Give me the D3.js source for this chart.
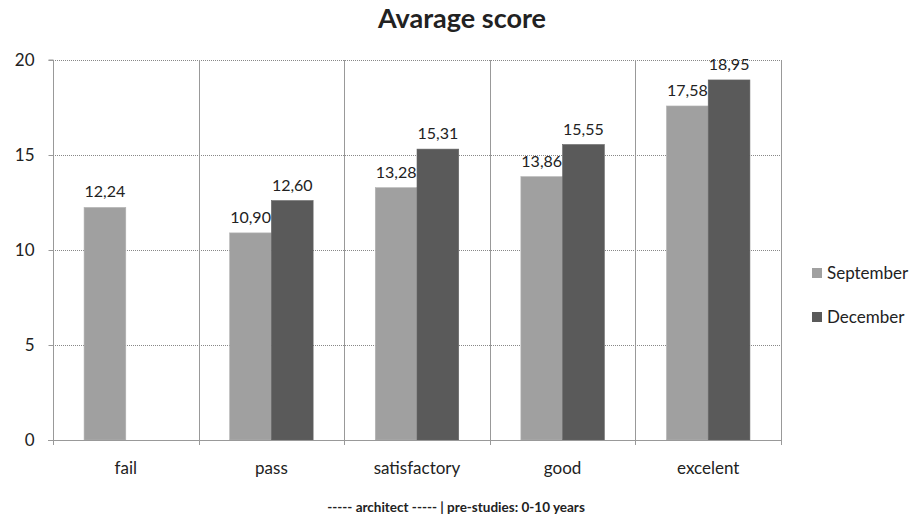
<!DOCTYPE html>
<html>
<head>
<meta charset="utf-8">
<script src="https://cdn.jsdelivr.net/npm/d3@7"></script>
<style>
	body { margin: 0; background: #fff; }
	text { font-family: Lato, "Open Sans", sans-serif; fill: #222; }
</style>
</head>
<body>
<svg id="chart"></svg>
<script>
let categories = ["fail", "pass", "satisfactory", "good", "excelent"];
let seriesNames = ["September", "December"];
let september = [12.24, 10.90, 13.28, 13.86, 17.58];
let december = [null, 12.60, 15.31, 15.55, 18.95];
let yTicks = [0, 5, 10, 15, 20];
let colors = ["#a0a0a0", "#5a5a5a"];

let width = 914, height = 519;
let margin = {top: 60, left: 53, right: 133, bottom: 79};

let svg = d3.select("svg#chart")
	.attr("width", width)
	.attr("height", height);

let x = d3.scaleBand()
	.domain(categories)
	.range([margin.left, width - margin.right]);

let inner = d3.scaleBand()
	.domain(seriesNames)
	.range([0, x.bandwidth()])
	.paddingOuter(0.745);

let y = d3.scaleLinear()
	.domain([0, 20])
	.range([height - margin.bottom, margin.top]);

// horizontal dotted gridlines
svg.selectAll("line.grid")
	.data(yTicks.filter(d => d > 0))
	.enter().append("line")
	.attr("x1", margin.left)
	.attr("x2", width - margin.right)
	.attr("y1", d => Math.round(y(d)) + 0.5)
	.attr("y2", d => Math.round(y(d)) + 0.5)
	.attr("stroke", "#888")
	.attr("stroke-dasharray", "1,1");

// vertical category separators
let bounds = categories.map(c => x(c)).concat([x.range()[1]]);
svg.selectAll("line.sep")
	.data(bounds.slice(1))
	.enter().append("line")
	.attr("x1", d => Math.round(d) + 0.5)
	.attr("x2", d => Math.round(d) + 0.5)
	.attr("y1", y(20))
	.attr("y2", y(0) + 5)
	.attr("stroke", "#999");

// bars
let rows = [];
categories.forEach(function(c, i){
	rows.push({cat: c, s: seriesNames[0], v: september[i], col: colors[0]});
	if (december[i] != null) rows.push({cat: c, s: seriesNames[1], v: december[i], col: colors[1]});
});

svg.selectAll("rect.bar")
	.data(rows)
	.enter().append("rect")
	.attr("class", "bar")
	.attr("x", d => x(d.cat) + inner(d.s))
	.attr("width", inner.bandwidth())
	.attr("y", d => y(d.v))
	.attr("height", d => y(0) - y(d.v))
	.attr("fill", d => d.col)
	.attr("stroke", d => d3.color(d.col).brighter(0.3))
	.attr("stroke-width", 0.6);

svg.selectAll("text.val")
	.data(rows)
	.enter().append("text")
	.attr("x", d => x(d.cat) + inner(d.s) + inner.bandwidth() / 2)
	.attr("y", d => y(d.v) - 10)
	.attr("text-anchor", "middle")
	.attr("font-size", 16)
	.text(d => d3.format(".2f")(d.v).replace(".", ","));

// y axis
let yAxis = svg.append("g")
	.attr("transform", `translate(${margin.left + 0.5},0)`)
	.call(d3.axisLeft(y).tickValues(yTicks).tickSize(5).tickPadding(14));
yAxis.select(".domain").attr("stroke", "#999").attr("d", `M-5,${y(20)}H0V${y(0)}`);
yAxis.selectAll(".tick line").attr("stroke", "#999");
yAxis.selectAll(".tick text").attr("font-size", 17).attr("font-family", "Lato, sans-serif").attr("fill", "#222");

// x axis
svg.append("line")
	.attr("x1", margin.left - 5)
	.attr("x2", width - margin.right)
	.attr("y1", Math.round(y(0)) + 0.5)
	.attr("y2", Math.round(y(0)) + 0.5)
	.attr("stroke", "#999");
svg.append("line")
	.attr("x1", margin.left + 0.5).attr("x2", margin.left + 0.5)
	.attr("y1", y(0)).attr("y2", y(0) + 5)
	.attr("stroke", "#999");

svg.selectAll("text.cat")
	.data(categories)
	.enter().append("text")
	.attr("x", d => x(d) + x.bandwidth() / 2)
	.attr("y", y(0) + 34)
	.attr("text-anchor", "middle")
	.attr("font-size", 17)
	.text(d => d);

// title
svg.append("text")
	.attr("x", 462)
	.attr("y", 28)
	.attr("text-anchor", "middle")
	.attr("font-size", 27)
	.attr("font-weight", "bold")
	.text("Avarage score");

svg.append("text")
	.attr("x", 456)
	.attr("y", 512)
	.attr("text-anchor", "middle")
	.attr("font-size", 13.5)
	.attr("font-weight", "bold")
	.text("----- architect -----  | pre-studies: 0-10 years");

// legend
let legend = svg.selectAll("g.legend")
	.data(seriesNames)
	.enter().append("g")
	.attr("transform", (d, i) => `translate(812,${268 + i * 44})`);
legend.append("rect")
	.attr("width", 10).attr("height", 10)
	.attr("fill", (d, i) => colors[i]);
legend.append("text")
	.attr("x", 15).attr("y", 11)
	.attr("font-size", 17)
	.text(d => d);
</script>
</body>
</html>
